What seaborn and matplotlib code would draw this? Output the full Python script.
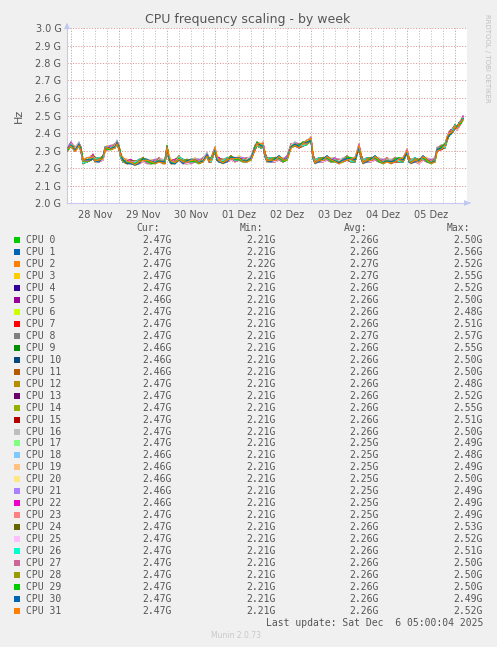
import numpy as np
import pandas as pd
import matplotlib
matplotlib.use("Agg")
import matplotlib.pyplot as plt
import seaborn as sns

# ---------------- data ----------------
hours = [-2, 0, 2, 4, 5, 6, 8, 10, 11, 12, 14, 16, 17, 18, 20, 22, 23, 24, 25, 26,
         28, 30, 32, 34, 36, 38, 40, 42, 44, 46, 47, 48, 49, 50, 52, 54, 56, 58, 60, 62,
         64, 66, 68, 69, 70, 72, 73, 74, 76, 78, 80, 82, 84, 86, 88, 90, 92, 93, 95, 96,
         97, 98, 100, 102, 104, 106, 108, 110, 112, 114, 116, 118, 120, 121, 122, 124, 126, 128, 130, 132,
         134, 136, 138, 140, 142, 144, 145, 146, 148, 150, 152, 154, 156, 158, 160, 162, 164, 166, 168, 169,
         170, 172, 174, 176, 178, 180, 182, 183, 185, 187, 188, 189, 190, 191, 192, 193, 194, 195, 196]
base_ghz = [2.30, 2.33, 2.30, 2.33, 2.30, 2.23, 2.24, 2.25, 2.26, 2.24, 2.24, 2.25, 2.30, 2.31, 2.31, 2.32, 2.34, 2.31, 2.26, 2.24,
            2.23, 2.23, 2.22, 2.23, 2.24, 2.23, 2.23, 2.23, 2.24, 2.23, 2.23, 2.31, 2.25, 2.23, 2.23, 2.25, 2.23, 2.23, 2.23, 2.24,
            2.23, 2.24, 2.27, 2.24, 2.24, 2.30, 2.25, 2.24, 2.23, 2.24, 2.25, 2.24, 2.25, 2.24, 2.24, 2.25, 2.31, 2.33, 2.32, 2.33,
            2.27, 2.24, 2.24, 2.24, 2.25, 2.24, 2.25, 2.32, 2.33, 2.32, 2.33, 2.34, 2.36, 2.26, 2.23, 2.24, 2.24, 2.25, 2.24, 2.24,
            2.23, 2.24, 2.25, 2.24, 2.24, 2.32, 2.26, 2.23, 2.24, 2.24, 2.25, 2.24, 2.23, 2.24, 2.23, 2.24, 2.24, 2.24, 2.29, 2.24,
            2.23, 2.24, 2.23, 2.25, 2.24, 2.23, 2.24, 2.30, 2.31, 2.32, 2.36, 2.39, 2.40, 2.41, 2.43, 2.42, 2.44, 2.46, 2.48]
# per-core deviation pattern (GHz)
core_dev = [0.000, 0.012, -0.004, 0.006, 0.020, -0.006, 0.003, 0.009, -0.002, 0.015, 0.001, -0.005, 0.007]

cpus = [f"CPU {i}" for i in range(32)]
cur = ["2.47G", "2.47G", "2.47G", "2.47G", "2.47G", "2.46G", "2.47G", "2.47G", "2.47G", "2.46G",
       "2.46G", "2.46G", "2.47G", "2.47G", "2.47G", "2.47G", "2.47G", "2.47G", "2.46G", "2.46G",
       "2.46G", "2.46G", "2.46G", "2.47G", "2.47G", "2.47G", "2.47G", "2.47G", "2.47G", "2.47G",
       "2.47G", "2.47G"]
mins = ["2.21G", "2.21G", "2.22G", "2.21G", "2.21G", "2.21G", "2.21G", "2.21G", "2.21G", "2.21G",
        "2.21G", "2.21G", "2.21G", "2.21G", "2.21G", "2.21G", "2.21G", "2.21G", "2.21G", "2.21G",
        "2.21G", "2.21G", "2.21G", "2.21G", "2.21G", "2.21G", "2.21G", "2.21G", "2.21G", "2.21G",
        "2.21G", "2.21G"]
avgs = ["2.26G", "2.26G", "2.27G", "2.27G", "2.26G", "2.26G", "2.26G", "2.26G", "2.27G", "2.26G",
        "2.26G", "2.26G", "2.26G", "2.26G", "2.26G", "2.26G", "2.26G", "2.25G", "2.25G", "2.25G",
        "2.25G", "2.25G", "2.25G", "2.25G", "2.26G", "2.26G", "2.26G", "2.26G", "2.26G", "2.26G",
        "2.26G", "2.26G"]
maxs = ["2.50G", "2.56G", "2.52G", "2.55G", "2.52G", "2.50G", "2.48G", "2.51G", "2.57G", "2.55G",
        "2.50G", "2.50G", "2.48G", "2.52G", "2.55G", "2.51G", "2.50G", "2.49G", "2.48G", "2.49G",
        "2.50G", "2.49G", "2.49G", "2.49G", "2.53G", "2.52G", "2.51G", "2.50G", "2.50G", "2.50G",
        "2.49G", "2.52G"]
colors = ["#00CC00", "#0066B3", "#FF8000", "#FFCC00", "#330099", "#990099", "#CCFF00", "#FF0000",
          "#808080", "#008F00", "#00487D", "#B35A00", "#B38F00", "#6B006B", "#8FB300", "#B30000",
          "#BEBEBE", "#80FF80", "#80C9FF", "#FFC080", "#FFE680", "#AA80FF", "#EE00CC", "#FF8080",
          "#666600", "#FFBFFF", "#00FFCC", "#CC6699", "#999900", "#00CC00", "#0066B3", "#FF8000"]
ytick_vals = [2.0, 2.1, 2.2, 2.3, 2.4, 2.5, 2.6, 2.7, 2.8, 2.9, 3.0]
ytick_labels = ["2.0 G", "2.1 G", "2.2 G", "2.3 G", "2.4 G", "2.5 G", "2.6 G", "2.7 G", "2.8 G", "2.9 G", "3.0 G"]
day_labels = ["28 Nov", "29 Nov", "30 Nov", "01 Dez", "02 Dez", "03 Dez", "04 Dez", "05 Dez"]

# ---------------- build long table ----------------
rows = []
nd = len(core_dev)
for i, c in enumerate(cpus):
    for k, (h, b) in enumerate(zip(hours, base_ghz)):
        rows.append((c, h, b + core_dev[(3 * k + 5 * i) % nd]))
df = pd.DataFrame(rows, columns=["cpu", "hour", "ghz"])

# ---------------- figure ----------------
sns.set_style("white")
plt.rcParams["font.family"] = ["DejaVu Sans"]
W, H = 497, 647
fig = plt.figure(figsize=(W / 100, H / 100), dpi=100)
fig.patch.set_facecolor("#F0F0F0")

def fx(px):
    return px / W

def fy(py):
    return 1 - py / H

ax = fig.add_axes([fx(67), fy(203), fx(467) - fx(67), fy(28) - fy(203)])
ax.set_facecolor("white")

# grid
for v in ytick_vals:
    ax.axhline(v, color="#E09C9C", lw=0.7, ls=(0, (1.2, 1.6)), zorder=0)
for h in range(-6, 200, 6):
    if h % 24 != 0:
        ax.axvline(h, color="#C4C4C4", lw=0.7, ls=(0, (1.2, 1.6)), zorder=0)
for h in range(0, 200, 24):
    ax.axvline(h, color="#E09C9C", lw=0.7, ls=(0, (1.2, 1.6)), zorder=0)

sns.lineplot(data=df, x="hour", y="ghz", hue="cpu", hue_order=cpus, palette=colors,
             legend=False, lw=0.75, ax=ax, estimator=None, sort=False, zorder=3)

ax.set_xlim(-2, 198)
ax.set_ylim(2.0, 3.0)
ax.set_yticks(ytick_vals)
ax.set_yticklabels(ytick_labels)
ax.set_xticks([12 + 24 * d for d in range(len(day_labels))])
ax.set_xticklabels(day_labels)
ax.tick_params(axis="both", length=0, labelsize=7, colors="#555555", pad=4)
ax.tick_params(axis="x", pad=5)
ax.set_xlabel("")
ax.set_ylabel("Hz", fontsize=8, color="#555555", labelpad=8)
for s in ["top", "right"]:
    ax.spines[s].set_visible(False)
for s in ["left", "bottom"]:
    ax.spines[s].set_color("#C8C8F0")
    ax.spines[s].set_linewidth(0.8)

# axis arrows
ax.annotate("", xy=(-2, 3.045), xytext=(-2, 3.0), xycoords="data",
            arrowprops=dict(arrowstyle="-|>", color="#C0C8F0", lw=0.8, mutation_scale=8),
            annotation_clip=False)
ax.annotate("", xy=(201, 2.0), xytext=(198, 2.0), xycoords="data",
            arrowprops=dict(arrowstyle="-|>", color="#C0C8F0", lw=0.8, mutation_scale=8),
            annotation_clip=False)

# title and side text
fig.text(fx(248), fy(19), "CPU frequency scaling - by week", ha="center", va="center",
         fontsize=9, color="#555555")
fig.text(fx(487), fy(58), "RRDTOOL / TOBI OETIKER", ha="center", va="center",
         rotation=270, fontsize=5, color="#C0C0C0")

# legend table
mono = "DejaVu Sans Mono"
fs = 7
tc = "#555555"
fig.text(fx(160), fy(228), "Cur:", ha="right", va="center", family=mono, fontsize=fs, color=tc)
fig.text(fx(263), fy(228), "Min:", ha="right", va="center", family=mono, fontsize=fs, color=tc)
fig.text(fx(367), fy(228), "Avg:", ha="right", va="center", family=mono, fontsize=fs, color=tc)
fig.text(fx(470), fy(228), "Max:", ha="right", va="center", family=mono, fontsize=fs, color=tc)
for i, c in enumerate(cpus):
    y = 240 + i * 11.97
    fig.patches.append(plt.Rectangle((fx(14), fy(y + 3)), fx(6), fy(y - 3) - fy(y + 3),
                                     transform=fig.transFigure, facecolor=colors[i],
                                     edgecolor="none", figure=fig))
    fig.text(fx(26), fy(y), c, ha="left", va="center", family=mono, fontsize=fs, color=tc)
    fig.text(fx(172), fy(y), cur[i], ha="right", va="center", family=mono, fontsize=fs, color=tc)
    fig.text(fx(276), fy(y), mins[i], ha="right", va="center", family=mono, fontsize=fs, color=tc)
    fig.text(fx(379), fy(y), avgs[i], ha="right", va="center", family=mono, fontsize=fs, color=tc)
    fig.text(fx(483), fy(y), maxs[i], ha="right", va="center", family=mono, fontsize=fs, color=tc)
fig.text(fx(483), fy(623), "Last update: Sat Dec  6 05:00:04 2025", ha="right", va="center",
         family=mono, fontsize=fs, color=tc)
fig.text(fx(236), fy(635), "Munin 2.0.73", ha="center", va="center", fontsize=5.5, color="#C8C8C8")

fig.savefig("out.png", dpi=100, facecolor=fig.get_facecolor())
